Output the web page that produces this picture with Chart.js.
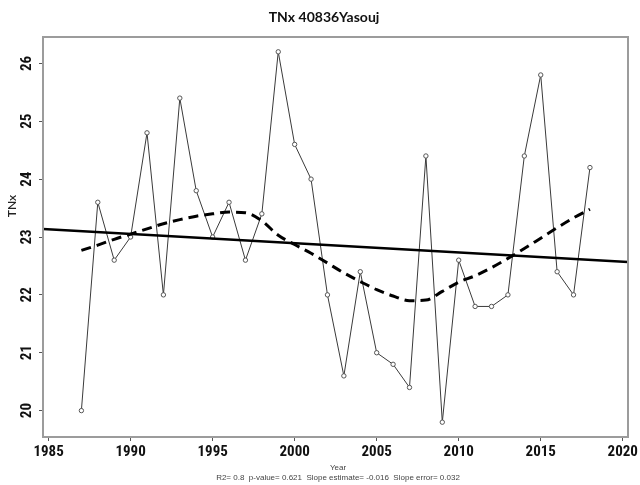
<!DOCTYPE html>
<html>
<head>
<meta charset="utf-8">
<title>TNx 40836Yasouj</title>
<script src="https://cdn.jsdelivr.net/npm/chart.js@4.4.1/dist/chart.umd.min.js"></script>
<style>
  html, body { margin: 0; padding: 0; background: #ffffff; }
  #wrap { width: 640px; height: 485px; }
</style>
</head>
<body>
<div id="wrap"><canvas id="chart" width="640" height="485"></canvas></div>
<script>
// Annual TNx at station 40836 Yasouj
const years = [1987, 1988, 1989, 1990, 1991, 1992, 1993, 1994, 1995, 1996,
               1997, 1998, 1999, 2000, 2001, 2002, 2003, 2004, 2005, 2006,
               2007, 2008, 2009, 2010, 2011, 2012, 2013, 2014, 2015, 2016,
               2017, 2018];
const tnx = [20.0, 23.6, 22.6, 23.0, 24.8, 22.0, 25.4, 23.8, 23.0, 23.6,
             22.6, 23.4, 26.2, 24.6, 24.0, 22.0, 20.6, 22.4, 21.0, 20.8,
             20.4, 24.4, 19.8, 22.6, 21.8, 21.8, 22.0, 24.4, 25.8, 22.4,
             22.0, 24.2];

// Local smoother (dashed curve), one value per year
const smoothValues = [22.77, 22.86, 22.96, 23.05, 23.14, 23.23, 23.30, 23.36, 23.40, 23.43,
                      23.42, 23.28, 23.03, 22.87, 22.72, 22.55, 22.38, 22.23, 22.09, 21.98,
                      21.90, 21.91, 22.06, 22.22, 22.33, 22.47, 22.63, 22.80, 22.98, 23.16,
                      23.33, 23.48];

// Linear trend across the whole plot width (slope -0.016 per year)
const trendYears = [1984.66, 2020.32];
const trendValues = [23.14, 22.57];

// Axis ticks
const xTicks = [1985, 1990, 1995, 2000, 2005, 2010, 2015, 2020];
const yTicks = [20, 21, 22, 23, 24, 25, 26];
const xRange = [1984.66, 2020.32];
const yRange = [19.544, 26.456];

const titleText = 'TNx 40836Yasouj';
const yTitleText = 'TNx';
const xTitleText = 'Year';
const statsText = 'R2= 0.8  p-value= 0.621  Slope estimate= -0.016  Slope error= 0.032';

const pairs = (xs, ys) => xs.map((x, i) => ({ x: x, y: ys[i] }));

const tickFont = '"Liberation Sans Narrow", "Roboto Condensed", Lato, "Liberation Sans", sans-serif';

const decorations = {
  id: 'decorations',
  afterDraw(chart) {
    const ctx = chart.ctx;
    const ca = chart.chartArea;
    const ys = chart.scales.y;
    ctx.save();

    // plot frame
    ctx.strokeStyle = '#9c9c9c';
    ctx.lineWidth = 2;
    ctx.strokeRect(ca.left, ca.top, ca.right - ca.left, ca.bottom - ca.top);

    // vertical y tick labels
    ctx.fillStyle = '#111111';
    ctx.font = 'bold 15px ' + tickFont;
    ctx.textAlign = 'center';
    ctx.textBaseline = 'middle';
    yTicks.forEach(v => {
      const py = ys.getPixelForValue(v);
      ctx.save();
      ctx.translate(27, py);
      ctx.rotate(-Math.PI / 2);
      ctx.fillText(String(v), 0, 0);
      ctx.restore();
    });

    // y axis title
    ctx.save();
    ctx.font = '600 12px Lato, "Liberation Sans", sans-serif';
    ctx.fillStyle = '#222222';
    ctx.translate(12, 206);
    ctx.rotate(-Math.PI / 2);
    ctx.fillText(yTitleText, 0, 0);
    ctx.restore();

    // main title
    ctx.font = 'bold 14px Lato, "Liberation Sans", sans-serif';
    ctx.fillStyle = '#111111';
    ctx.fillText(titleText, 324, 17);

    // x axis title and statistics line
    ctx.font = '8px "Liberation Sans", Arial, sans-serif';
    ctx.fillStyle = '#444444';
    ctx.fillText(xTitleText, 338, 468);
    ctx.fillText(statsText, 338, 478);

    ctx.restore();
  }
};

new Chart(document.getElementById('chart'), {
  type: 'line',
  data: {
    datasets: [
      {
        label: 'TNx',
        data: pairs(years, tnx),
        borderColor: '#3a3a3a',
        borderWidth: 1,
        pointRadius: 2.2,
        pointBackgroundColor: '#ffffff',
        pointBorderColor: '#555555',
        pointBorderWidth: 1,
        tension: 0,
        order: 3
      },
      {
        label: 'Linear trend',
        data: pairs(trendYears, trendValues),
        borderColor: '#000000',
        borderWidth: 2.5,
        pointRadius: 0,
        order: 2
      },
      {
        label: 'Smooth',
        data: pairs(years, smoothValues),
        borderColor: '#000000',
        borderWidth: 3,
        borderDash: [10, 6],
        pointRadius: 0,
        cubicInterpolationMode: 'monotone',
        order: 1
      }
    ]
  },
  options: {
    responsive: false,
    animation: false,
    events: [],
    layout: { padding: { top: 37, right: 9, left: 0, bottom: 0 } },
    plugins: {
      legend: { display: false },
      title: { display: false },
      tooltip: { enabled: false }
    },
    scales: {
      x: {
        type: 'linear',
        min: xRange[0],
        max: xRange[1],
        afterBuildTicks(axis) { axis.ticks = xTicks.map(v => ({ value: v })); },
        afterFit(axis) { axis.height = 48; },
        border: { display: false },
        grid: { display: true, drawOnChartArea: false, drawTicks: true, tickLength: 4, color: '#555555', lineWidth: 1 },
        ticks: {
          padding: 2,
          maxRotation: 0,
          color: '#111111',
          font: { family: tickFont, size: 15, weight: 'bold' },
          callback: v => String(v)
        }
      },
      y: {
        type: 'linear',
        min: yRange[0],
        max: yRange[1],
        afterBuildTicks(axis) { axis.ticks = yTicks.map(v => ({ value: v })); },
        afterFit(axis) { axis.width = 43; },
        border: { display: false },
        grid: { display: true, drawOnChartArea: false, drawTicks: true, tickLength: 4, color: '#555555', lineWidth: 1 },
        ticks: { display: false }
      }
    }
  },
  plugins: [decorations]
});
</script>
</body>
</html>
